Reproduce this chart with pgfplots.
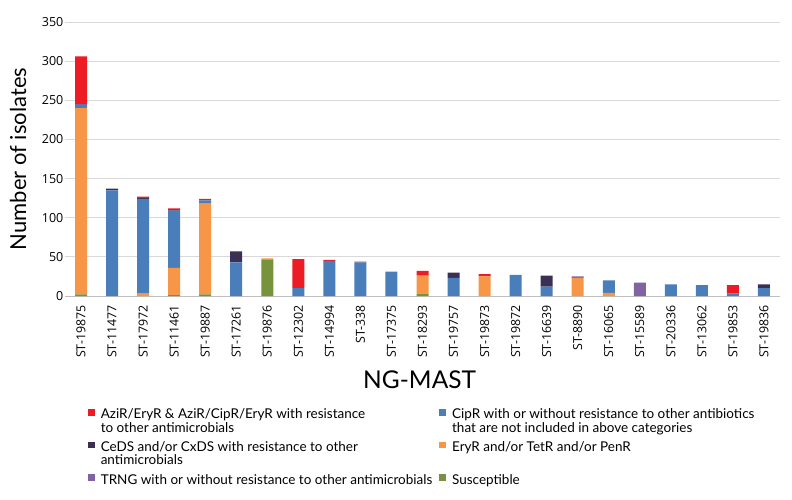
\documentclass[border=0pt]{standalone}
\usepackage{pgfplots}
\pgfplotsset{compat=1.18}
\usepackage{pgfplotstable}
\usepackage{fontspec}
\setmainfont{Lato}
\newfontfamily\tickfont{Open Sans}
\definecolor{cRed}{HTML}{ED1C24}
\definecolor{cBlue}{HTML}{4A7EBB}
\definecolor{cDark}{HTML}{3B3054}
\definecolor{cOrange}{HTML}{F79646}
\definecolor{cPurple}{HTML}{8064A2}
\definecolor{cGreen}{HTML}{77933C}
\newcommand\legfont{\fontsize{13.5}{13.4}\selectfont\lineskiplimit=-20pt\relax}
\pgfplotsset{sqleg/.style={legend image code/.code={\fill[##1] (0pt,-8.8pt) rectangle (6.8pt,-2pt);}}}
\pgfplotstableread{
x g o b d p r
0 2 238 4 0 1 61
1 0 0 135 2 0 0
2 0 3 121 1 0 2
3 1 35 73 1 0 2
4 2 116 4 0 0 2
5 0 0 43 14 0 0
6 46 2 0 0 0 0
7 0 0 10 0 0 37
8 0 0 45 0 0 1
9 0 0 43 0 0 1
10 0 0 31 0 0 0
11 3 23 0 0 0 6
12 0 0 23 7 0 0
13 0 25 0 0 0 3
14 0 0 27 0 0 0
15 0 0 12 14 0 0
16 0 23 0 0 2 0
17 0 4 16 0 0 0
18 0 0 0 0 17 0
19 0 0 15 0 0 0
20 0 0 14 0 0 0
21 0 0 3 0 0 11
22 0 0 10 5 0 0
}\data
\begin{document}
\begin{tikzpicture}
\path[use as bounding box] (-65.5pt,-204pt) rectangle (726.5pt,296pt);
\begin{axis}[
  scale only axis, width=714pt, height=274pt,
  ymin=0, ymax=350, ytick={0,50,...,350},
  xmin=-0.5, xmax=22.5,
  ybar stacked, bar width=12pt,
  axis lines*=left,
  y axis line style={draw=none},
  x axis line style={draw=black!25, line width=0.8pt},
  major tick length=0pt,
  ymajorgrids, grid style={draw=black!15, line width=0.8pt},
  xtick={0,...,22},
  xticklabels={ST-19875,ST-11477,ST-17972,ST-11461,ST-19887,ST-17261,ST-19876,ST-12302,ST-14994,ST-338,ST-17375,ST-18293,ST-19757,ST-19873,ST-19872,ST-16639,ST-8890,ST-16065,ST-15589,ST-20336,ST-13062,ST-19853,ST-19836},
  x tick label style={rotate=90, anchor=east, font=\tickfont\fontsize{12.4}{13}\selectfont, inner xsep=9pt},
  y tick label style={font=\tickfont\fontsize{12.5}{14}\selectfont, inner sep=2pt},
  /pgf/number format/assume math mode=true,
  ylabel={Number of isolates},
  ylabel style={font=\fontsize{22}{24}\selectfont, at={(axis description cs:-0.0665,0.5)}, anchor=center},
  xlabel={NG-MAST},
  xlabel style={font=\fontsize{24.5}{26}\selectfont, at={(axis description cs:0.496,-0.307)}, anchor=center},
  legend columns=2,
  legend style={at={(axis description cs:0.0315,-0.404)}, anchor=north west, draw=none,
    inner sep=0pt, outer sep=0pt,
    font=\legfont,
    cells={align=left, anchor=north west, inner xsep=3pt, inner ysep=0pt},
    /tikz/every odd column/.append style={column sep=4pt},
    /tikz/every even column/.append style={column sep=5pt}, row sep=4pt},
]
\addplot[fill=cGreen, draw=none, forget plot] table[x=x,y=g]{\data};
\addplot[fill=cOrange, draw=none, forget plot] table[x=x,y=o]{\data};
\addplot[fill=cBlue, draw=none, forget plot] table[x=x,y=b]{\data};
\addplot[fill=cDark, draw=none, forget plot] table[x=x,y=d]{\data};
\addplot[fill=cPurple, draw=none, forget plot] table[x=x,y=p]{\data};
\addplot[fill=cRed, draw=none, forget plot] table[x=x,y=r]{\data};
\addlegendimage{sqleg, fill=cRed, draw=none}
\addlegendentry{AziR/EryR \& AziR/CipR/EryR with resistance\\to other antimicrobials}
\addlegendimage{sqleg, fill=cBlue, draw=none}
\addlegendentry{CipR with or without resistance to other antibiotics\\that are not included in above categories}
\addlegendimage{sqleg, fill=cDark, draw=none}
\addlegendentry{CeDS and/or CxDS with resistance to other\\antimicrobials}
\addlegendimage{sqleg, fill=cOrange, draw=none}
\addlegendentry{EryR and/or TetR and/or PenR}
\addlegendimage{sqleg, fill=cPurple, draw=none}
\addlegendentry{TRNG with or without resistance to other antimicrobials}
\addlegendimage{sqleg, fill=cGreen, draw=none}
\addlegendentry{Susceptible}
\end{axis}
\end{tikzpicture}
\end{document}
